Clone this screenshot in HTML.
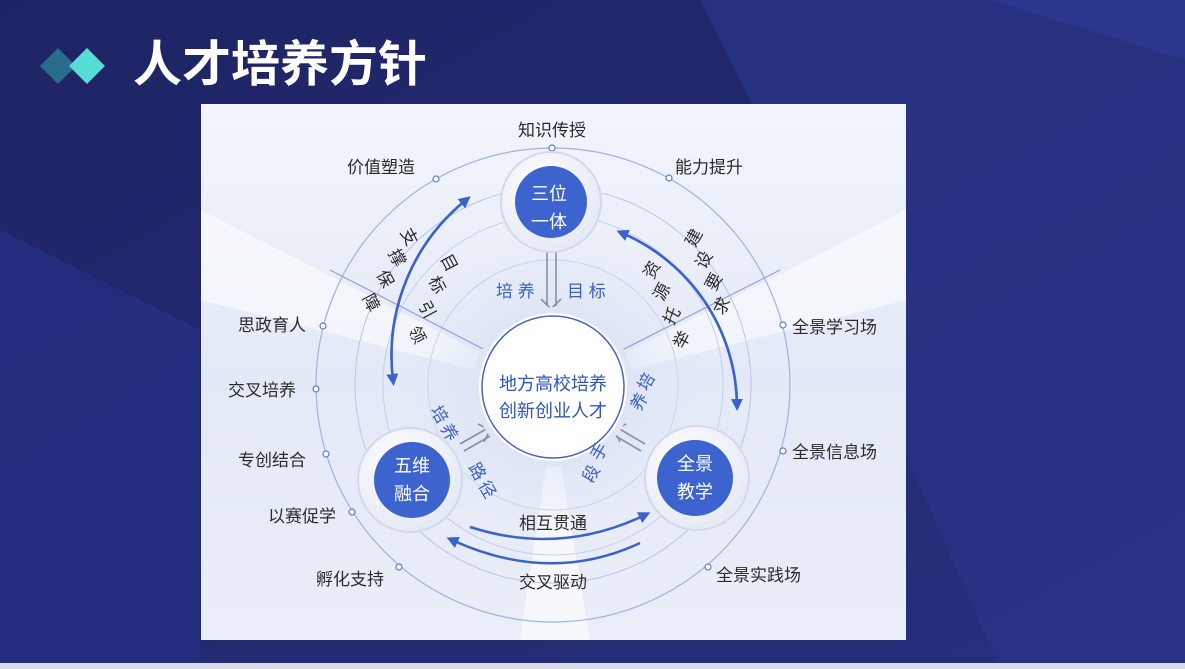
<!DOCTYPE html>
<html><head><meta charset="utf-8"><style>
html,body{margin:0;padding:0;width:1185px;height:669px;overflow:hidden;}
body{background:#1f2669;font-family:"Liberation Sans","Noto Sans CJK SC",sans-serif;}
</style></head><body>
<svg width="1185" height="669" viewBox="0 0 1185 669" xmlns="http://www.w3.org/2000/svg" font-family="Liberation Sans, Noto Sans CJK SC, sans-serif">
<defs>
<linearGradient id="bg" x1="0" y1="0" x2="1" y2="1">
<stop offset="0" stop-color="#1e2463"/><stop offset="1" stop-color="#26307e"/>
</linearGradient>
<linearGradient id="panel" x1="0" y1="0" x2="0" y2="1">
<stop offset="0" stop-color="#f2f5fb"/><stop offset="0.5" stop-color="#e3e9f6"/><stop offset="1" stop-color="#eaeef8"/>
</linearGradient>
<radialGradient id="glow" cx="0.5" cy="0.5" r="0.5">
<stop offset="0" stop-color="#cdd7f0"/><stop offset="1" stop-color="#e2e8f6" stop-opacity="0"/>
</radialGradient>
<radialGradient id="nodeOut" cx="0.4" cy="0.35" r="0.7">
<stop offset="0" stop-color="#ffffff"/><stop offset="1" stop-color="#e4e8f3"/>
</radialGradient>
<marker id="ah" markerWidth="12" markerHeight="12" refX="6" refY="6" orient="auto" markerUnits="userSpaceOnUse">
<path d="M0,0 L12,6 L0,12 z" fill="#3a63cc"/></marker>
<clipPath id="pc"><rect x="201" y="104" width="705" height="536"/></clipPath>
</defs>
<rect width="1185" height="669" fill="url(#bg)"/>
<polygon points="700,0 1185,0 1185,669 1000,669 760,120" fill="#2a3488" opacity="0.7"/>
<polygon points="0,230 200,330 200,669 0,669" fill="#252f82" opacity="0.8"/>
<polygon points="990,0 1185,0 1185,60" fill="#2e3a96" opacity="0.6"/>
<rect x="0" y="663" width="1185" height="6" fill="#d9dce8"/>
<!-- title -->
<polygon points="58,48 76,66 58,84 40,66" fill="#2a6c8c"/>
<polygon points="87,48 105,66 87,84 69,66" fill="#57dcd8"/>
<text x="133" y="81" fill="#ffffff" font-size="49" font-weight="bold" font-family="Liberation Sans, Noto Sans CJK SC, sans-serif">人才培养方针</text>
<!-- panel -->
<rect x="201" y="104" width="705" height="536" fill="url(#panel)"/>
<g clip-path="url(#pc)">
<polygon points="201,210 553,390 201,300" fill="#ffffff" opacity="0.5"/>
<polygon points="906,210 553,390 906,300" fill="#ffffff" opacity="0.5"/>
<polygon points="520,640 553,420 590,640" fill="#ffffff" opacity="0.6"/>
<circle cx="553" cy="385" r="150" fill="url(#glow)"/>
<circle cx="553" cy="385" r="237" fill="none" stroke="#9fb2e0" stroke-width="1.2"/>
<circle cx="553" cy="385" r="198" fill="none" stroke="#b8c6e8" stroke-width="1"/>
<circle cx="553" cy="385" r="170" fill="none" stroke="#c3cfeb" stroke-width="1"/>
<circle cx="553" cy="385" r="125" fill="none" stroke="#c9d3ee" stroke-width="1"/>
<line x1="553" y1="385" x2="330" y2="270" stroke="#8fa3d8" stroke-width="1.2"/>
<line x1="553" y1="385" x2="780" y2="270" stroke="#8fa3d8" stroke-width="1.2"/>
</g>
<!-- dots on outer circle -->
<g fill="#fff" stroke="#5b7bd0" stroke-width="1.2">
<circle cx="552" cy="148" r="3"/><circle cx="436" cy="179" r="3"/><circle cx="669" cy="178" r="3"/>
<circle cx="323" cy="326" r="3"/><circle cx="316" cy="389" r="3"/><circle cx="326" cy="454" r="3"/>
<circle cx="352" cy="512" r="3"/><circle cx="399" cy="567" r="3"/>
<circle cx="783" cy="325" r="3"/><circle cx="783" cy="451" r="3"/><circle cx="708" cy="567" r="3"/>
</g>
<!-- arrows (arcs) -->
<g fill="none" stroke="#3a63cc" stroke-width="2.5">
<path d="M393,380 A200,200 0 0 1 466,200" marker-end="url(#ah)"/>
<path d="M466,200 A200,200 0 0 0 393,380" marker-end="url(#ah)"/>
<path d="M622,233 A190,190 0 0 1 737,405" marker-end="url(#ah)"/>
<path d="M737,405 A190,190 0 0 0 622,233" marker-end="url(#ah)"/>
<path d="M470,527 Q560,556 645,515" marker-end="url(#ah)"/>
<path d="M640,543 Q550,585 452,540" marker-end="url(#ah)"/>
</g>
<!-- gray double arrows -->
<g stroke="#8a8f9c" stroke-width="1.6" fill="none">
<line x1="547" y1="252" x2="547" y2="306"/><line x1="556" y1="252" x2="556" y2="306"/>
<polyline points="541,299 551,309 561,299"/>
<line x1="460" y1="444" x2="488" y2="428"/><line x1="464" y1="451" x2="492" y2="435"/>
<polyline points="478,424 490,430 484,442"/>
<line x1="645" y1="444" x2="618" y2="428"/><line x1="641" y1="451" x2="614" y2="435"/>
<polyline points="626,424 614,430 620,442"/>
</g>
<!-- center circle -->
<circle cx="553" cy="387" r="77" fill="#fff" stroke="#dfe5f3" stroke-width="6"/>
<circle cx="553" cy="387" r="71" fill="#fff" stroke="#4466c8" stroke-width="1.5"/>
<text x="553" y="390" fill="#2f56bf" font-size="18" text-anchor="middle">地方高校培养</text>
<text x="553" y="417" fill="#2f56bf" font-size="18" text-anchor="middle">创新创业人才</text>
<!-- nodes -->
<g>
<circle cx="551" cy="202" r="50" fill="url(#nodeOut)" stroke="#d2d9ec" stroke-width="2"/>
<circle cx="551" cy="202" r="36" fill="#3d63cf"/>
<text x="549" y="200" fill="#fff" font-size="18" text-anchor="middle">三位</text>
<text x="549" y="228" fill="#fff" font-size="18" text-anchor="middle">一体</text>
<circle cx="410" cy="480" r="52" fill="url(#nodeOut)" stroke="#d2d9ec" stroke-width="2"/>
<circle cx="412" cy="480" r="38" fill="#3d63cf"/>
<text x="412" y="472" fill="#fff" font-size="18" text-anchor="middle">五维</text>
<text x="412" y="500" fill="#fff" font-size="18" text-anchor="middle">融合</text>
<circle cx="697" cy="478" r="52" fill="url(#nodeOut)" stroke="#d2d9ec" stroke-width="2"/>
<circle cx="695" cy="478" r="38" fill="#3d63cf"/>
<text x="695" y="470" fill="#fff" font-size="18" text-anchor="middle">全景</text>
<text x="695" y="498" fill="#fff" font-size="18" text-anchor="middle">教学</text>
</g>
<!-- outer labels -->
<g fill="#2b2b2b" font-size="17">
<text x="552" y="136" text-anchor="middle">知识传授</text>
<text x="347" y="173">价值塑造</text>
<text x="675" y="173">能力提升</text>
<text x="238" y="331">思政育人</text>
<text x="228" y="396">交叉培养</text>
<text x="238" y="466">专创结合</text>
<text x="268" y="522">以赛促学</text>
<text x="316" y="585">孵化支持</text>
<text x="792" y="333">全景学习场</text>
<text x="792" y="458">全景信息场</text>
<text x="716" y="581">全景实践场</text>
<text x="553" y="529" text-anchor="middle">相互贯通</text>
<text x="553" y="588" text-anchor="middle">交叉驱动</text>
</g>
<!-- rotated labels -->
<g fill="#2b2b2b" font-size="17">
<text transform="translate(400,232) rotate(62)">支</text>
<text transform="translate(388,253) rotate(62)">撑</text>
<text transform="translate(376,274) rotate(62)">保</text>
<text transform="translate(362,298) rotate(62)">障</text>
<text transform="translate(440,258) rotate(62)">目</text>
<text transform="translate(428,280) rotate(62)">标</text>
<text transform="translate(418,305) rotate(62)">引</text>
<text transform="translate(408,330) rotate(62)">领</text>
<text transform="translate(695,248) rotate(-62)">建</text>
<text transform="translate(705,270) rotate(-62)">设</text>
<text transform="translate(715,292) rotate(-62)">要</text>
<text transform="translate(723,316) rotate(-62)">求</text>
<text transform="translate(653,280) rotate(-62)">资</text>
<text transform="translate(663,302) rotate(-62)">源</text>
<text transform="translate(673,326) rotate(-62)">托</text>
<text transform="translate(683,350) rotate(-62)">举</text>
</g>
<g fill="#3a5fc6" font-size="17">
<text x="496" y="297">培 养</text>
<text x="567" y="297">目 标</text>
<text transform="translate(430,410) rotate(60)">培</text>
<text transform="translate(440,428) rotate(60)">养</text>
<text transform="translate(468,467) rotate(60)">路</text>
<text transform="translate(478,485) rotate(60)">径</text>
<text transform="translate(647,392) rotate(-60)">培</text>
<text transform="translate(640,412) rotate(-60)">养</text>
<text transform="translate(600,462) rotate(-60)">手</text>
<text transform="translate(592,484) rotate(-60)">段</text>
</g>
</svg>
</body></html>
